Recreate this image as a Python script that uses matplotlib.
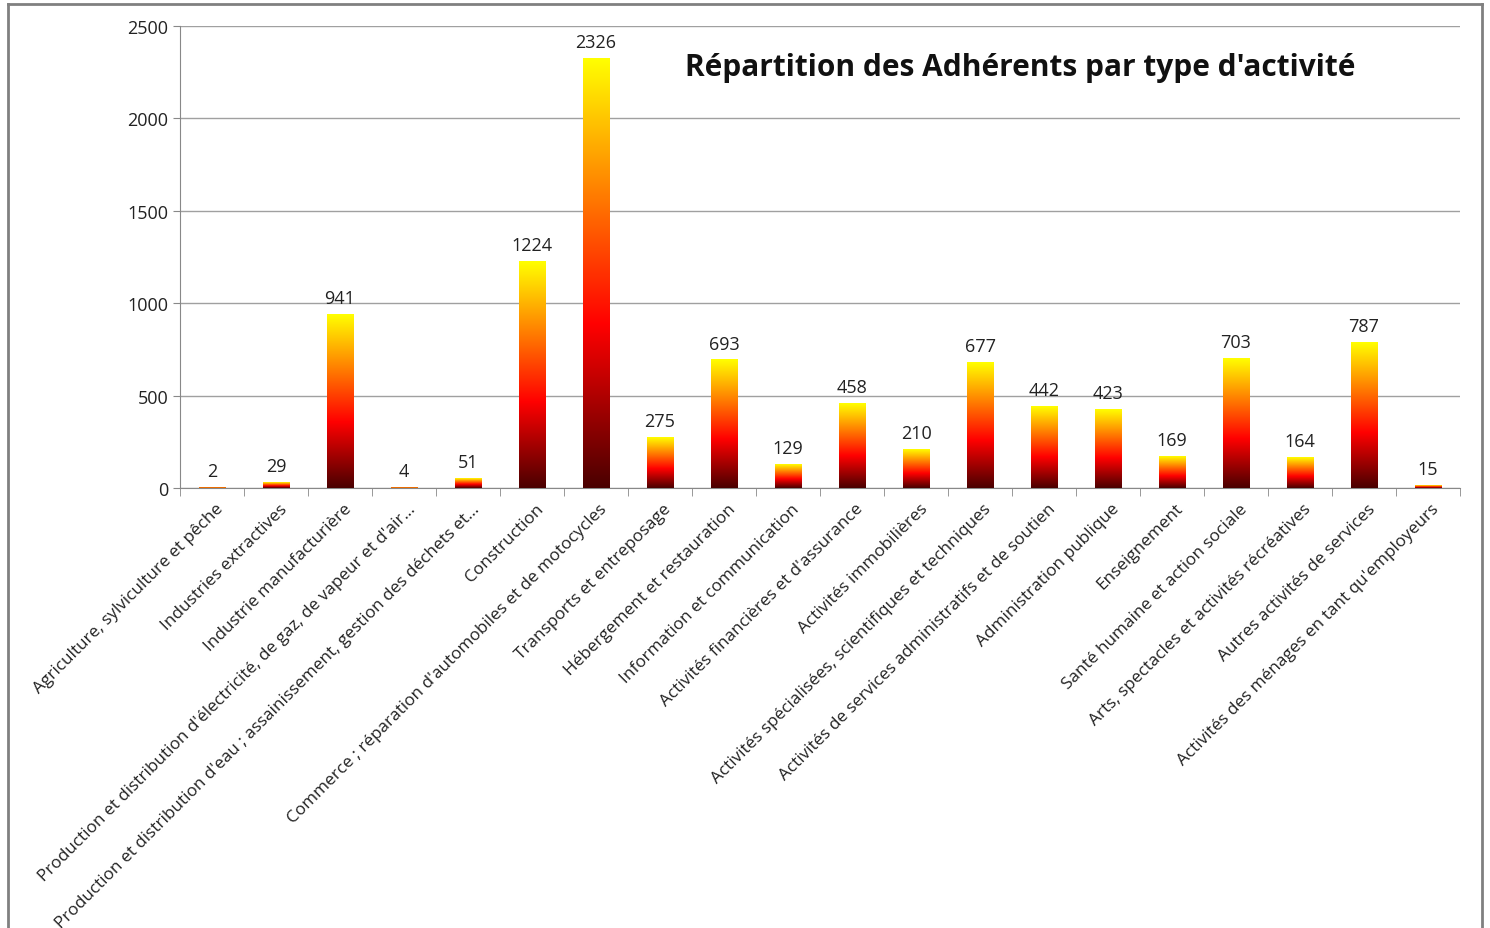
import matplotlib
matplotlib.use("Agg")
import matplotlib.pyplot as plt
import numpy as np
from matplotlib.colors import LinearSegmentedColormap
from matplotlib.lines import Line2D

categories = [
    "Agriculture, sylviculture et pêche",
    "Industries extractives",
    "Industrie manufacturière",
    "Production et distribution d'électricité, de gaz, de vapeur et d'air…",
    "Production et distribution d'eau ; assainissement, gestion des déchets et…",
    "Construction",
    "Commerce ; réparation d'automobiles et de motocycles",
    "Transports et entreposage",
    "Hébergement et restauration",
    "Information et communication",
    "Activités financières et d'assurance",
    "Activités immobilières",
    "Activités spécialisées, scientifiques et techniques",
    "Activités de services administratifs et de soutien",
    "Administration publique",
    "Enseignement",
    "Santé humaine et action sociale",
    "Arts, spectacles et activités récréatives",
    "Autres activités de services",
    "Activités des ménages en tant qu'employeurs",
]
values = [2, 29, 941, 4, 51, 1224, 2326, 275, 693, 129, 458, 210, 677, 442, 423,
          169, 703, 164, 787, 15]
yticks = [0, 500, 1000, 1500, 2000, 2500]
title = "Répartition des Adhérents par type d'activité"

plt.rcParams['font.family'] = ['Open Sans', 'DejaVu Sans']

# gradient: dark red at bottom -> red -> orange -> yellow at top
cmap = LinearSegmentedColormap.from_list(
    "fire", [(0.0, "#4a0000"), (0.38, "#ff0000"), (0.72, "#ff8c00"), (1.0, "#ffff00")])
grad = np.linspace(0, 1, 256).reshape(-1, 1)

fig = plt.figure(figsize=(14.9, 9.29), dpi=100)
ax = fig.add_axes([180 / 1490, 1 - 489 / 929, 1280 / 1490, 462 / 929])

n = len(values)
bar_w = 0.42
for i, v in enumerate(values):
    ax.imshow(grad, cmap=cmap, origin="lower", aspect="auto",
              extent=(i - bar_w / 2, i + bar_w / 2, 0, v), zorder=3,
              interpolation="bilinear")
    ax.text(i, v + 40, str(v), ha="center", va="bottom", fontsize=13, color="#222222")

ax.set_xlim(-0.5, n - 0.5)
ax.set_ylim(0, 2500)
ax.set_yticks(yticks)
ax.tick_params(axis="y", labelsize=13, length=5, color="#888888", labelcolor="#222222")
ax.yaxis.grid(True, color="#a0a0a0", linewidth=1)
ax.set_axisbelow(True)

ax.set_xticks(np.arange(n))
ax.set_xticklabels([])
ax.set_xticks(np.arange(n + 1) - 0.5, minor=True)
ax.tick_params(axis="x", which="major", length=0)
ax.tick_params(axis="x", which="minor", length=6, color="#888888", direction="out")

for i, lab in enumerate(categories):
    ax.annotate(lab, xy=(i + 0.14, 0), xycoords=("data", "data"),
                xytext=(0, -13), textcoords="offset points",
                rotation=45, rotation_mode="anchor", ha="right", va="center",
                fontsize=12.3, color="#222222")

for s in ["top", "right"]:
    ax.spines[s].set_visible(False)
ax.spines["left"].set_color("#888888")
ax.spines["bottom"].set_color("#888888")

fig.text(1020 / 1490, 1 - 68 / 929, title, ha="center", va="center",
         fontsize=21.5, fontweight="bold", color="#111111")

# frame around the chart
for line in [Line2D([8 / 1490, 8 / 1490], [0, 1 - 5 / 929]),
             Line2D([1482 / 1490, 1482 / 1490], [0, 1 - 5 / 929]),
             Line2D([8 / 1490, 1482 / 1490], [1 - 5 / 929, 1 - 5 / 929])]:
    line.set_transform(fig.transFigure)
    line.set_color("#808080")
    line.set_linewidth(2)
    fig.add_artist(line)

fig.savefig("out.png", dpi=100)
